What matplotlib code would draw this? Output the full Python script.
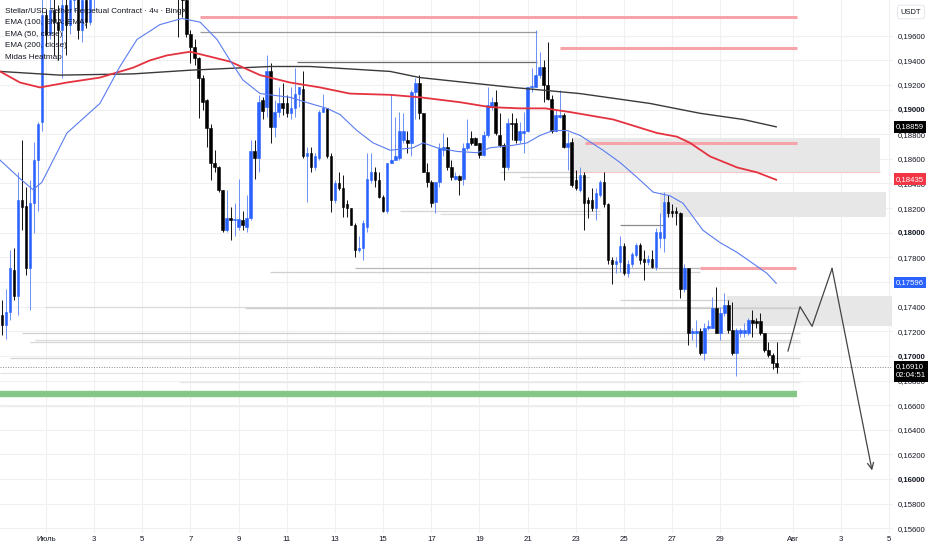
import numpy as np
import pandas as pd
import matplotlib
matplotlib.use("Agg")
import matplotlib.pyplot as plt
import matplotlib.dates as mdates
import matplotlib.transforms as mtransforms

plt.rcParams['font.family'] = ['Liberation Sans', 'DejaVu Sans']

# 4h candles, first one 29 June 00:00
opens = [
    .1737, .1733, .1725, .1736, .1770, .1749, .1827, .1822, .1771, .1824,
    .1859, .1890, .1977, .1961, .1981, .1971, .1965, .1985, .1969, .1989,
    .1997, .1965, .1989, .1971, .1993, .2005, .2018, .2012, .2026, .2040,
    .2031, .2037, .2024, .2030, .2046, .2038, .2027, .2033, .2020, .2014,
    .2022, .2010, .2016, .2004, .2008, .2000, .1995, .1989, .1961, .1951,
    .1942, .1926, .1908, .1885, .1857, .1853, .1835, .1802, .1812, .1810,
    .1805, .1810, .1805, .1812, .1866, .1861, .1908, .1902, .1931, .1886,
    .1898, .1905, .1905, .1897, .1901, .1913, .1917, .1862, .1865, .1853,
    .1861, .1898, .1901, .1862, .1827, .1840, .1836, .1823, .1820, .1806,
    .1786, .1788, .1805, .1843, .1849, .1843, .1829, .1818, .1857, .1859,
    .1861, .1875, .1875, .1873, .1914, .1922, .1897, .1849, .1841, .1825,
    .1841, .1867, .1870, .1853, .1844, .1846, .1844, .1869, .1877, .1877,
    .1873, .1863, .1879, .1902, .1906, .1879, .1871, .1853, .1889, .1889,
    .1875, .1881, .1883, .1918, .1918, .1928, .1935, .1920, .1909, .1883,
    .1894, .1896, .1870, .1874, .1843, .1835, .1847, .1827, .1827, .1820,
    .1831, .1841, .1823, .1778, .1775, .1776, .1789, .1767, .1775, .1782,
    .1790, .1779, .1776, .1779, .1772, .1796, .1796, .1825, .1818, .1818,
    .1816, .1754, .1771, .1719, .1719, .1720, .1702, .1723, .1723, .1739,
    .1719, .1735, .1741, .1721, .1702, .1719, .1719, .1719, .1729, .1728,
    .1728, .1719, .1705, .1701, .1694,
]
highs = [
    .1754, .1745, .1754, .1786, .1788, .1849, .1875, .1837, .1843, .1874,
    .1890, .1997, .1981, .1995, .1993, .1985, .1997, .1993, .1997, .2005,
    .2001, .1997, .1997, .2001, .2013, .2025, .2030, .2034, .2048, .2052,
    .2045, .2043, .2038, .2055, .2058, .2044, .2040, .2037, .2026, .2029,
    .2025, .2021, .2019, .2013, .2015, .2006, .2001, .1995, .1965, .1957,
    .1943, .1928, .1909, .1888, .1867, .1854, .1835, .1835, .1821, .1824,
    .1844, .1818, .1831, .1875, .1875, .1912, .1910, .1944, .1938, .1908,
    .1918, .1922, .1912, .1918, .1934, .1918, .1931, .1870, .1870, .1865,
    .1900, .1913, .1901, .1865, .1843, .1849, .1847, .1827, .1820, .1808,
    .1797, .1810, .1865, .1865, .1853, .1849, .1831, .1857, .1913, .1894,
    .1898, .1897, .1883, .1916, .1926, .1928, .1897, .1857, .1843, .1841,
    .1873, .1881, .1878, .1859, .1849, .1847, .1873, .1892, .1883, .1878,
    .1873, .1883, .1918, .1910, .1916, .1897, .1873, .1893, .1897, .1893,
    .1890, .1898, .1918, .1934, .1965, .1947, .1940, .1955, .1912, .1900,
    .1916, .1897, .1882, .1877, .1851, .1853, .1849, .1829, .1836, .1836,
    .1843, .1849, .1824, .1780, .1780, .1797, .1792, .1778, .1784, .1792,
    .1792, .1786, .1782, .1786, .1804, .1816, .1833, .1831, .1823, .1821,
    .1817, .1775, .1771, .1723, .1729, .1723, .1727, .1729, .1748, .1756,
    .1740, .1751, .1745, .1744, .1723, .1723, .1727, .1731, .1737, .1731,
    .1735, .1719, .1711, .1702, .1711,
]
lows = [
    .1719, .1717, .1714, .1729, .1745, .1733, .1802, .1766, .1737, .1800,
    .1818, .1883, .1952, .1957, .1944, .1940, .1926, .1944, .1961, .1980,
    .1957, .1955, .1966, .1969, .1981, .1998, .2003, .2006, .2020, .2024,
    .2022, .2015, .2016, .2025, .2030, .2019, .2018, .2011, .2004, .2007,
    .2001, .2000, .1996, .1994, .1993, .1959, .1975, .1959, .1938, .1936,
    .1893, .1900, .1870, .1843, .1849, .1833, .1801, .1801, .1794, .1797,
    .1802, .1802, .1801, .1810, .1844, .1849, .1892, .1894, .1873, .1878,
    .1894, .1896, .1894, .1892, .1894, .1902, .1861, .1825, .1849, .1851,
    .1859, .1898, .1861, .1817, .1824, .1835, .1813, .1813, .1806, .1780,
    .1784, .1778, .1801, .1840, .1837, .1828, .1817, .1816, .1857, .1859,
    .1859, .1873, .1865, .1862, .1892, .1892, .1849, .1837, .1821, .1816,
    .1837, .1862, .1851, .1843, .1843, .1831, .1839, .1867, .1871, .1871,
    .1861, .1862, .1878, .1900, .1879, .1870, .1843, .1851, .1875, .1873,
    .1873, .1865, .1882, .1914, .1918, .1926, .1906, .1908, .1881, .1882,
    .1893, .1869, .1851, .1837, .1835, .1833, .1802, .1812, .1818, .1810,
    .1829, .1821, .1775, .1758, .1767, .1768, .1766, .1764, .1772, .1780,
    .1775, .1762, .1774, .1771, .1770, .1788, .1784, .1813, .1813, .1806,
    .1747, .1752, .1709, .1713, .1707, .1701, .1697, .1721, .1723, .1719,
    .1713, .1732, .1719, .1701, .1684, .1715, .1715, .1717, .1715, .1723,
    .1717, .1703, .1699, .1689, .1686,
]
closes = [
    .1733, .1725, .1736, .1771, .1749, .1827, .1821, .1771, .1824, .1859,
    .1888, .1977, .1961, .1981, .1971, .1965, .1985, .1969, .1989, .1997,
    .1965, .1989, .1971, .1993, .2005, .2018, .2012, .2026, .2040, .2031,
    .2037, .2024, .2030, .2046, .2038, .2027, .2033, .2020, .2014, .2022,
    .2010, .2016, .2004, .2008, .2000, .1995, .1989, .1961, .1951, .1942,
    .1926, .1906, .1885, .1857, .1853, .1835, .1802, .1812, .1810, .1811,
    .1811, .1806, .1812, .1866, .1861, .1906, .1899, .1931, .1886, .1898,
    .1905, .1901, .1897, .1901, .1913, .1918, .1862, .1865, .1853, .1862,
    .1898, .1901, .1862, .1827, .1840, .1836, .1821, .1820, .1806, .1786,
    .1788, .1808, .1844, .1849, .1843, .1829, .1818, .1857, .1859, .1862,
    .1883, .1883, .1873, .1914, .1922, .1897, .1849, .1841, .1824, .1841,
    .1869, .1870, .1853, .1845, .1846, .1843, .1869, .1873, .1873, .1871,
    .1863, .1879, .1904, .1906, .1881, .1871, .1853, .1889, .1888, .1875,
    .1883, .1883, .1918, .1919, .1928, .1935, .1920, .1909, .1883, .1896,
    .1896, .1870, .1873, .1839, .1836, .1847, .1824, .1824, .1820, .1832,
    .1841, .1823, .1778, .1775, .1777, .1789, .1767, .1775, .1783, .1790,
    .1778, .1776, .1779, .1772, .1801, .1801, .1825, .1816, .1816, .1816,
    .1754, .1771, .1719, .1720, .1720, .1702, .1723, .1724, .1739, .1719,
    .1735, .1741, .1721, .1702, .1721, .1721, .1721, .1729, .1727, .1727,
    .1719, .1705, .1701, .1694, .1691,
]

# moving averages (day offset from 1 July, price)
ema50_day = [-1.91, -1.08, -0.54, -0.17, 0.87, 2.24, 3.07, 3.78, 4.73, 5.65,
             6.40, 7.10, 7.64, 8.18, 8.89, 10.13, 10.96, 11.67, 12.21, 12.91,
             13.58, 14.29, 15.24, 15.66, 16.24, 17.07, 17.90, 18.44, 19.39, 19.98,
             20.51, 21.05, 21.64, 22.18, 23.13, 23.84, 24.54, 25.21, 25.91, 26.45,
             27.28, 27.99, 28.70, 29.36, 29.94, 30.32]
ema50_val = [.1859, .1844, .1835, .1841, .1881, .1905, .1935, .1957, .1969, .1974,
             .1971, .1957, .1940, .1924, .1913, .1910, .1905, .1901, .1896, .1883,
             .1873, .1867, .1869, .1873, .1869, .1866, .1865, .1869, .1871, .1873,
             .1879, .1883, .1883, .1879, .1867, .1857, .1845, .1833, .1830, .1824,
             .1802, .1792, .1784, .1775, .1767, .1759]
ema100_day = [-1.91, -1.08, -0.25, 0.87, 2.24, 3.61, 4.32, 5.02, 5.98, 6.40,
              7.64, 8.89, 10.13, 11.38, 12.62, 14.29, 15.53, 17.19, 18.44, 19.68,
              20.72, 21.76, 23.55, 25.37, 26.20, 26.74, 27.57, 28.70, 29.53, 30.32]
ema100_val = [.1931, .1922, .1918, .1922, .1926, .1934, .1940, .1944, .1947, .1945,
              .1939, .1928, .1922, .1918, .1913, .1912, .1910, .1906, .1902, .1901,
              .1901, .1898, .1892, .1881, .1878, .1873, .1862, .1853, .1849, .1843]
ema200_day = [-1.91, 0.58, 3.61, 5.98, 9.30, 10.96, 14.29, 15.53, 19.39, 22.18,
              25.08, 27.16, 28.95, 30.32]
ema200_val = [.1931, .1928, .1929, .1932, .1935, .1935, .1931, .1926, .1918, .1913,
              .1905, .1897, .1892, .1886]

# Midas heatmap pieces
red_price = [.1975, .1950, .1873, .1771]
red_start = [6.40, 21.35, 22.38, 27.16]
red_end = [31.19, 31.19, 31.19, 31.15]

zone_top = [.1877, .1833, .1749]
zone_bottom = [.1849, .1813, .1724]
zone_start = [21.89, 25.50, 28.28]
zone_end = [34.63, 34.90, 35.13]

heat_price = [.1963, .1939, .1849, .1845, .1818, .1815, .1806, .1771, .1768, .1745,
              .1740, .1739, .1719, .1713, .1711, .1698, .1686, .1679, .1659]
heat_start = [6.40, 10.42, 18.85, 19.68, 14.70, 16.36, 23.84, 12.83, 9.30, 23.84,
              -0.04, 8.26, -1.00, -0.46, -0.66, -1.50, -1.91, 5.56, -1.91]
heat_end = [20.39, 20.39, 22.59, 22.59, 23.01, 23.01, 25.62, 27.16, 27.16, 28.41,
            31.30, 31.30, 31.30, 31.30, 31.30, 31.30, 31.30, 31.30, 31.30]

support_price = 0.1669
support_end = 31.19

# hand-drawn projection
path_day = [30.81, 31.31, 31.81, 32.64, 34.30]
path_price = [.1704, .1740, .1724, .1771, .1607]

tick_days = [0, 2, 4, 6, 8, 10, 12, 14, 16, 18, 20, 22, 24, 26, 28, 31, 33, 35]
tick_labels = ['Июль', '3', '5', '7', '9', '11', '13', '15', '17', '19', '21',
               '23', '25', '27', '29', 'Авг', '3', '5']
price_ticks = [0.156, 0.158, 0.160, 0.162, 0.164, 0.166, 0.168, 0.170, 0.172,
               0.174, 0.176, 0.178, 0.180, 0.182, 0.184, 0.186, 0.188, 0.190,
               0.192, 0.194, 0.196]

badge_values = [0.18859, 0.18435, 0.17596]
badge_colors = ['#000000', '#f23645', '#2962ff']
last_price_text = '0,16910\n02:04:51'

legend_lines = ['Stellar/USD Tether Perpetual Contract · 4ч · BingX',
                'EMA (100, EMA: EMA)', 'EMA (50, close)', 'EMA (200, close)',
                'Midas Heatmap']


def main():
    times = pd.date_range('2025-06-29 00:00', periods=len(opens), freq='4h')
    x = mdates.date2num(times)
    july1 = mdates.date2num(pd.Timestamp('2025-07-01'))

    def day(d):
        return july1 + np.asarray(d, dtype=float)

    fig = plt.figure(figsize=(9.32, 5.5), dpi=100)
    ax = fig.add_axes([0, 17 / 550, 893 / 932, 533 / 550])

    # zones and heatmap lines
    for top, bot, s, e in zip(zone_top, zone_bottom, zone_start, zone_end):
        ax.fill_between(day([s, e]), bot, top, color='#e7e7e7', lw=0, zorder=1)
    heat_colors = ['#9a9a9a', '#6a6a6a', '#cfcfcf', '#d8d8d8', '#d4d4d4', '#dcdcdc',
                   '#8a8a8a', '#b8b8b8', '#cfcfcf', '#d2d2d2', '#dadada', '#cccccc',
                   '#d0d0d0', '#dcdcdc', '#d6d6d6', '#d4d4d4', '#e4e4e4', '#e6e6e6',
                   '#ececec']
    for p, s, e, col in zip(heat_price, heat_start, heat_end, heat_colors):
        ax.hlines(p, day(s), day(e), color=col, lw=0.9, zorder=1.5)
    ax.hlines(zone_bottom[0], day(zone_start[0]), day(zone_end[0]),
              color='#f6c6ca', lw=0.8, zorder=1.6)
    for p, s, e in zip(red_price, red_start, red_end):
        ax.hlines(p, day(s), day(e), color='#f7a3aa', lw=2.2, zorder=2)
    ax.hlines(support_price, day(-2.5), day(support_end), color='#85c787', lw=4.6, zorder=2)

    # current price dotted line
    ax.axhline(closes[-1], color='#8a8a8a', lw=0.7, ls=(0, (1, 1.6)), zorder=2)

    # candles
    o, h, l, c = map(np.asarray, (opens, highs, lows, closes))
    up = c >= o
    dn = ~up
    ax.vlines(x[up], l[up], h[up], color='#6b8ff5', lw=0.7, zorder=3)
    ax.vlines(x[dn], l[dn], h[dn], color='#111111', lw=0.7, zorder=3)
    w = 0.11
    ax.bar(x[up], c[up] - o[up], bottom=o[up], width=w, color='#2962ff',
           edgecolor='#2962ff', lw=0.4, zorder=4)
    ax.bar(x[dn], c[dn] - o[dn], bottom=o[dn], width=w, color='#000000',
           edgecolor='#000000', lw=0.4, zorder=4)

    # moving averages
    ax.plot(day(ema200_day), ema200_val, color='#3a3a3a', lw=1.0, zorder=5)
    ax.plot(day(ema100_day), ema100_val, color='#e5323f', lw=1.3, zorder=5)
    ax.plot(day(ema50_day), ema50_val, color='#5a7cf0', lw=0.8, zorder=5)

    # projection path
    ax.plot(day(path_day[:-1]), path_price[:-1], color='#444444', lw=0.9, zorder=6)
    ax.annotate('', xy=(day(path_day[-1]), path_price[-1]),
                xytext=(day(path_day[-2]), path_price[-2]),
                arrowprops=dict(arrowstyle='->,head_length=0.45,head_width=0.22',
                                color='#444444', lw=0.9, shrinkA=0, shrinkB=0),
                zorder=6)

    ax.set_xlim(day(-1.91), day(35.17))
    ax.set_ylim(0.15562, 0.19890)

    ax.set_xticks(day(tick_days))
    ax.set_xticklabels(tick_labels)
    ax.yaxis.tick_right()
    ax.set_yticks(price_ticks)
    ylabels = ax.set_yticklabels([f'{v:.5f}'.replace('.', ',') for v in price_ticks])
    for v, lbl in zip(price_ticks, ylabels):
        if abs(v * 100 - round(v * 100)) < 1e-9:
            lbl.set_fontweight('bold')
        # the EMA 50 badge sits right on top of this level
        if abs(v - 0.176) < 1e-9:
            lbl.set_visible(False)
    ax.tick_params(axis='x', length=0, pad=2.5, labelsize=5.6, colors='#131722')
    ax.tick_params(axis='y', length=0, pad=3.5, labelsize=5.6, colors='#131722')
    ax.grid(True, color='#f0f0f0', lw=0.8)
    ax.set_axisbelow(True)
    for s in ax.spines.values():
        s.set_visible(False)

    # price badges on the right scale
    trans = mtransforms.blended_transform_factory(ax.transAxes, ax.transData)
    for v, col in zip(badge_values, badge_colors):
        ax.text(1.0 + 3 / 893, v, f'{v:.5f}'.replace('.', ','), transform=trans,
                ha='left', va='center', fontsize=5.6, color='white', clip_on=False,
                bbox=dict(boxstyle='square,pad=0.3', fc=col, ec='none'), zorder=10)
    ax.text(1.0 + 3 / 893, 0.16938, last_price_text, transform=trans,
            ha='left', va='top', fontsize=5.6, color='white', clip_on=False,
            linespacing=1.35,
            bbox=dict(boxstyle='square,pad=0.3', fc='#000000', ec='none'), zorder=10)

    fig.text(911 / 932, 1 - 12 / 550, 'USDT', fontsize=5.4, ha='center', va='center',
             color='#131722',
             bbox=dict(boxstyle='round,pad=0.45', fc='white', ec='#e0e3eb', lw=0.6))

    # legend block in the top-left corner
    for i, txt in enumerate(legend_lines):
        fig.text(5 / 932, 1 - (11.5 + 11.4 * i) / 550, txt, fontsize=5.9,
                 ha='left', va='center', color='#131722')

    fig.savefig('out.png', dpi=100)


if __name__ == "__main__":
    main()
